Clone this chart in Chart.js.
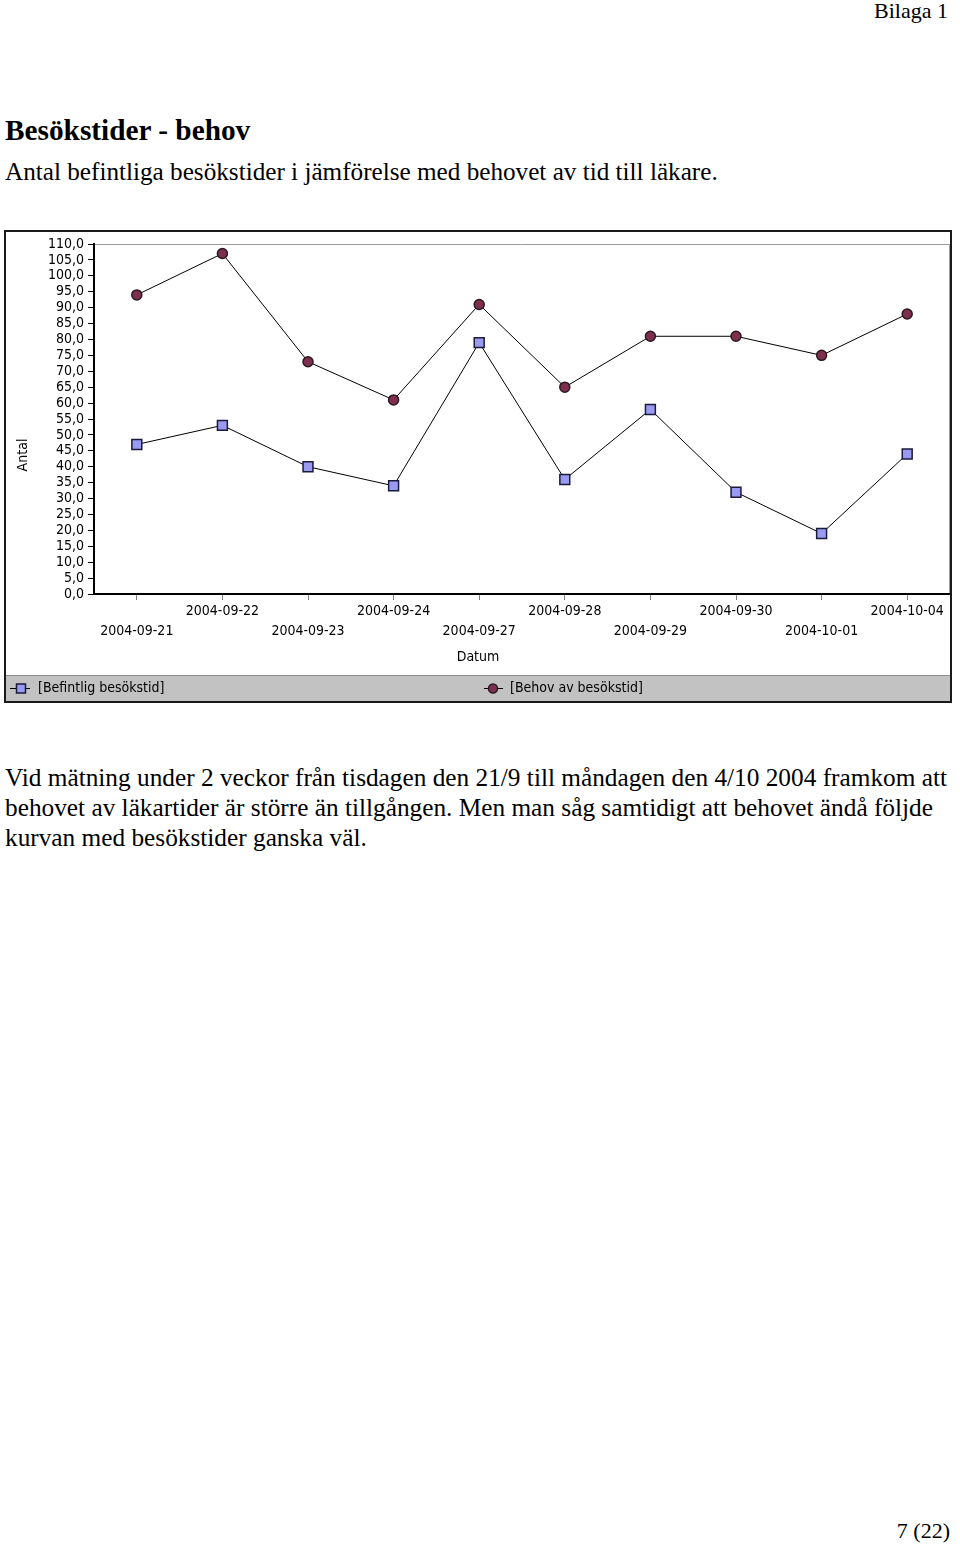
<!DOCTYPE html>
<html lang="sv">
<head>
<meta charset="utf-8">
<title>Besökstider - behov</title>
<script src="https://cdn.jsdelivr.net/npm/chart.js@4.4.1/dist/chart.umd.min.js"></script>
<style>
  body { margin: 0; width: 960px; height: 1547px; position: relative; background: #fff; color: #000;
         font-family: "Liberation Serif", "Times New Roman", serif; }
  .abs { position: absolute; margin: 0; white-space: nowrap; }
  #bilaga { top: -2px; right: 12px; font-size: 22px; line-height: 26px; }
  h1 { left: 5px; top: 114px; font-size: 29.3px; font-weight: bold; line-height: 32px; }
  #sub { left: 5px; top: 158px; font-size: 25.2px; line-height: 28px; }
  #box { left: 4px; top: 230px; width: 948px; height: 473px; border: 2px solid #1a1a1a; box-sizing: border-box; background: #fff; }
  #text { left: 5px; top: 762px; font-size: 25.3px; line-height: 30px; }
  #page { right: 10px; top: 1518px; font-size: 22px; line-height: 26px; }
</style>
</head>
<body>
<div id="bilaga" class="abs">Bilaga 1</div>
<h1 class="abs">Besökstider - behov</h1>
<p id="sub" class="abs">Antal befintliga besökstider i jämförelse med behovet av tid till läkare.</p>
<div id="box" class="abs"><canvas id="myChart"></canvas></div>
<p id="text" class="abs">Vid mätning under 2 veckor från tisdagen den 21/9 till måndagen den 4/10 2004 framkom att<br>behovet av läkartider är större än tillgången. Men man såg samtidigt att behovet ändå följde<br>kurvan med besökstider ganska väl.</p>
<div id="page" class="abs">7 (22)</div>

<script>
// Besökstider - behov
const dates = ["2004-09-21", "2004-09-22", "2004-09-23", "2004-09-24", "2004-09-27",
  "2004-09-28", "2004-09-29", "2004-09-30", "2004-10-01", "2004-10-04"];
const befintlig = [47, 53, 40, 34, 79, 36, 58, 32, 19, 44];
const behov = [94, 107, 73, 61, 91, 65, 81, 81, 75, 88];
const seriesNames = ["[Befintlig besökstid]", "[Behov av besökstid]"];
const yMin = 0, yMax = 110, yStep = 5;

const chartFont = '"DejaVu Sans Condensed", "Liberation Sans Narrow", "DejaVu Sans", sans-serif';
Chart.defaults.font.family = chartFont;
Chart.defaults.font.size = 14;
Chart.defaults.color = "#000";

const squareFill = "#9a9af2";
const circleFill = "#7e2f50";

// gray frame round the plot, axis titles and the gray legend band
const frame = {
  id: "frame",
  beforeDraw(chart) {
    const { ctx, chartArea: a, width, height } = chart;
    ctx.save();
    ctx.fillStyle = "#c2c2c2";
    ctx.fillRect(0, height - 25, width, 25);
    ctx.fillStyle = "#8c8c8c";
    ctx.fillRect(0, height - 26, width, 1);
    ctx.strokeStyle = "#9c9c9c";
    ctx.lineWidth = 1;
    ctx.beginPath();
    ctx.moveTo(a.left, a.top + 0.5);
    ctx.lineTo(a.right - 0.5, a.top + 0.5);
    ctx.lineTo(a.right - 0.5, a.bottom);
    ctx.stroke();
    ctx.restore();
  },
  afterDraw(chart) {
    const { ctx, height } = chart;
    ctx.save();
    ctx.font = "14px " + chartFont;
    ctx.fillStyle = "#000";
    ctx.textAlign = "center";
    ctx.textBaseline = "middle";
    ctx.fillText("Datum", 472, 425);
    ctx.save();
    ctx.translate(17, 223);
    ctx.rotate(-Math.PI / 2);
    ctx.fillText("Antal", 0, 0);
    ctx.restore();

    // legend
    const ly = height - 12.5;
    const items = [
      { x0: 4, x1: 24, mx: 15, tx: 32, ds: chart.data.datasets[0] },
      { x0: 478, x1: 497, mx: 487, tx: 504, ds: chart.data.datasets[1] },
    ];
    items.forEach((it) => {
      ctx.strokeStyle = "#000";
      ctx.lineWidth = 1;
      ctx.beginPath();
      ctx.moveTo(it.x0, ly);
      ctx.lineTo(it.x1, ly);
      ctx.stroke();
      ctx.fillStyle = it.ds.pointBackgroundColor;
      ctx.strokeStyle = it.ds.pointBorderColor;
      ctx.lineWidth = 1.5;
      ctx.beginPath();
      if (it.ds.pointStyle === "rect") ctx.rect(it.mx - 4.5, ly - 4.5, 9, 9);
      else ctx.arc(it.mx, ly, 4.5, 0, Math.PI * 2);
      ctx.fill();
      ctx.stroke();
      ctx.fillStyle = "#000";
      ctx.textAlign = "left";
      ctx.fillText(it.ds.label, it.tx, ly);
    });
    ctx.restore();
  },
};

const myChart = new Chart(document.querySelector("#myChart"), {
  type: "line",
  data: {
    labels: dates,
    datasets: [
      {
        label: seriesNames[0],
        data: befintlig,
        borderColor: "#000",
        borderWidth: 1,
        pointStyle: "rect",
        pointRadius: 7,
        pointBackgroundColor: squareFill,
        pointBorderColor: "#1a1a3a",
        pointBorderWidth: 1.5,
        tension: 0,
      },
      {
        label: seriesNames[1],
        data: behov,
        borderColor: "#000",
        borderWidth: 1,
        pointStyle: "circle",
        pointRadius: 5,
        pointBackgroundColor: circleFill,
        pointBorderColor: "#2a1a20",
        pointBorderWidth: 1.5,
        tension: 0,
      },
    ],
  },
  options: {
    responsive: true,
    maintainAspectRatio: false,
    animation: false,
    layout: { autoPadding: false, padding: { top: 12, bottom: 25, left: 0, right: 0 } },
    plugins: {
      legend: { display: false },
      tooltip: { enabled: false },
    },
    scales: {
      x: {
        offset: true,
        afterFit: (scale) => {
          scale.height = 82;
          scale.paddingLeft = 0;
          scale.paddingRight = 0;
        },
        border: { color: "#000", width: 2 },
        grid: { offset: false, drawOnChartArea: false, tickLength: 6, tickColor: "#808080" },
        ticks: {
          autoSkip: false,
          maxRotation: 0,
          padding: 1,
          font: { size: 14, lineHeight: "20px" },
          callback: function (value, index) {
            const label = this.getLabelForValue(value);
            return index % 2 === 0 ? ["", label] : [label, ""];
          },
        },
      },
      y: {
        min: yMin,
        max: yMax,
        afterFit: (scale) => {
          scale.width = 88;
          scale.paddingTop = 0;
          scale.paddingBottom = 0;
        },
        border: { color: "#000", width: 2 },
        grid: { drawOnChartArea: false, tickLength: 6, tickColor: "#000" },
        ticks: {
          autoSkip: false,
          stepSize: yStep,
          padding: 4,
          callback: (v) => v.toFixed(1).replace(".", ","),
        },
      },
    },
  },
  plugins: [frame],
});
</script>
</body>
</html>
